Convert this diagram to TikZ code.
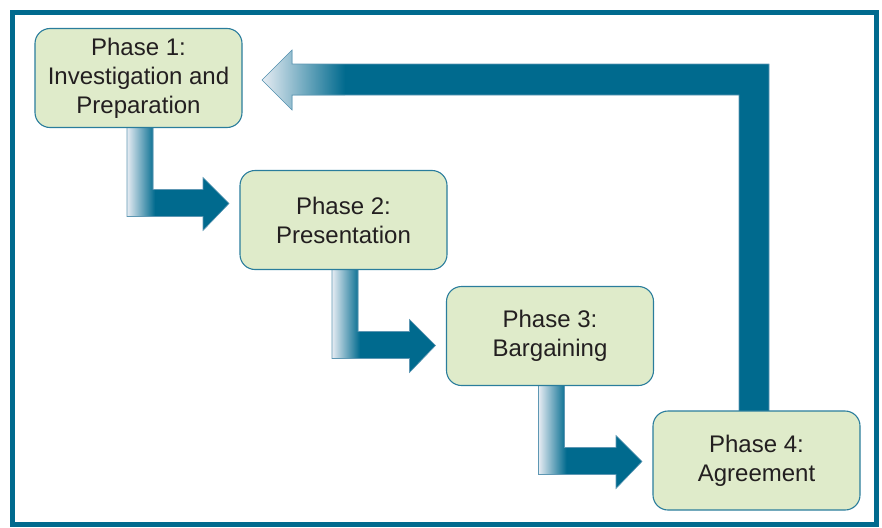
\documentclass[tikz,border=0pt]{standalone}
\usepackage{fontspec}
\setmainfont{Liberation Sans}
\usetikzlibrary{calc}
\pgfdeclarelayer{background}
\pgfsetlayers{background,main}
\definecolor{teal1}{HTML}{006A8E}
\definecolor{tealedge}{HTML}{2A7D9C}
\definecolor{arrowedge}{HTML}{5E97B3}
\definecolor{boxfill}{HTML}{DFEBCA}
\definecolor{lightend}{HTML}{E6ECF3}
\definecolor{txt}{HTML}{231F20}
\tikzset{
  phase/.style={draw=tealedge, line width=1.1pt, fill=boxfill, rounded corners=15pt,
    minimum width=207pt, minimum height=99pt, inner sep=0pt, outer sep=0pt,
    align=center, font=\fontsize{24}{29}\selectfont, text=txt},
  connedge/.style={draw=arrowedge, line width=0.6pt},
  frame/.style={draw=teal1, line width=5pt}
}
% stepped connector from node #1 (bottom) to node #2 (left side)
\newcommand\phasestep[2]{%
  \coordinate (s) at (#1.south west);
  \coordinate (tx) at ($(#2.south west)+(-11,0)$);
  \coordinate (ty) at ($(s)+(0,76)$);
  \coordinate (a) at ($(s)+(92,0)$);
  \coordinate (b) at ($(s)+(92,89)$);
  \coordinate (c) at ($(tx|-s)+(-26,89)$);
  \coordinate (d) at ($(tx|-s)+(-26,103)$);
  \coordinate (e) at (tx|-ty);
  \coordinate (f) at ($(tx|-s)+(-26,50)$);
  \coordinate (g) at ($(tx|-s)+(-26,62)$);
  \coordinate (h) at ($(s)+(118,62)$);
  \coordinate (i) at ($(s)+(118,0)$);
  \begin{scope}
    \clip (a) -- (b) -- (c) -- (d) -- (e) -- (f) -- (g) -- (h) -- (i) -- cycle;
    \fill[teal1] ($(s)+(80,-2)$) rectangle ($(s)+(260,110)$);
    \shade[left color=lightend, right color=teal1] ($(s)+(92,-2)$) rectangle ($(s)+(120,110)$);
  \end{scope}
  \path[connedge] (a) -- (b) -- (c) -- (d) -- (e) -- (f) -- (g) -- (h) -- (i);
}
\begin{document}
\begin{tikzpicture}[x=1pt,y=-1pt]
\useasboundingbox (0,0) rectangle (882,527);
\draw[frame] (12.5,12.5) rectangle (876.5,524.5);

\node[phase] (p1) at (138.5,78) {Phase 1:\\Investigation and\\Preparation};
\node[phase] (p2) at (343.5,220) {Phase 2:\\Presentation};
\node[phase] (p3) at (550,336) {Phase 3:\\Bargaining};
\node[phase] (p4) at (756.5,460.5) {Phase 4:\\Agreement};

\begin{pgfonlayer}{background}
  \phasestep{p1}{p2}
  \phasestep{p2}{p3}
  \phasestep{p3}{p4}
  % return arrow from phase 4 back to phase 1
  \coordinate (r1) at ($(p4.north west)+(86,0)$);
  \coordinate (r2) at ($(p4.north west)+(116,0)$);
  \coordinate (rt) at ($(p1.east)+(20,2)$);
  \coordinate (rb) at ($(rt)+(30,0)$);
  \begin{scope}
    \clip (r1) -- (r1|-0,95) -- (rb|-0,95) -- (rb|-0,110) -- (rt) -- (rb|-0,50)
      -- (rb|-0,64) -- (r2|-0,64) -- (r2) -- cycle;
    \fill[teal1] (250,40) rectangle (780,420);
    \shade[left color=lightend, right color=teal1] (262,40) rectangle (345,120);
  \end{scope}
  \path[connedge] (r1) -- (r1|-0,95) -- (rb|-0,95) -- (rb|-0,110) -- (rt) -- (rb|-0,50)
      -- (rb|-0,64) -- (r2|-0,64) -- (r2);
\end{pgfonlayer}
\end{tikzpicture}
\end{document}
